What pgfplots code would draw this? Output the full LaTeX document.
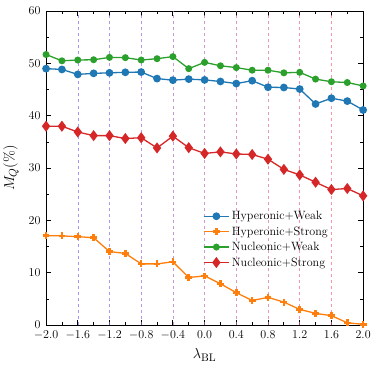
\documentclass[border=0pt]{standalone}
\usepackage{pgfplots}
\pgfplotsset{compat=1.18}

\definecolor{cblue}{HTML}{1F77B4}
\definecolor{corange}{HTML}{FF7F0E}
\definecolor{cgreen}{HTML}{2CA02C}
\definecolor{cred}{HTML}{D62728}
% guide line colours, blue-violet to pink
\definecolor{g1}{RGB}{120,110,245}
\definecolor{g2}{RGB}{140,110,235}
\definecolor{g3}{RGB}{160,105,220}
\definecolor{g4}{RGB}{180,105,205}
\definecolor{g5}{RGB}{195,105,190}
\definecolor{g6}{RGB}{210,105,175}
\definecolor{g7}{RGB}{225,105,160}
\definecolor{g8}{RGB}{235,105,145}
\definecolor{g9}{RGB}{245,105,130}

\begin{document}
\begin{tikzpicture}
\begin{axis}[
    scale only axis,
    width=315bp, height=312bp,
    xmin=-2, xmax=2, ymin=0, ymax=60,
    xtick={-2,-1.6,-1.2,-0.8,-0.4,0,0.4,0.8,1.2,1.6,2},
    minor x tick num=1,
    ytick={0,10,...,60},
    minor y tick num=1,
    tick align=inside,
    major tick length=5pt,
    minor tick length=3pt,
    tick style={black, line width=0.8pt},
    axis line style={line width=1.1pt},
    xticklabel style={yshift=-2.5pt, /pgf/number format/.cd, fixed, fixed zerofill, precision=1},
    yticklabel style={xshift=-2pt},
    xlabel={$\lambda_{\mathrm{BL}}$},
    ylabel={$M_Q(\%)$},
    label style={font=\fontsize{15}{17}\selectfont},
    ticklabel style={font=\fontsize{11.5}{13}\selectfont},
    xlabel style={yshift=-2pt},
    ylabel style={yshift=3pt},
    legend style={draw=none, fill=none, font=\fontsize{12}{14}\selectfont, at={(0.905,0.17)}, anchor=south east, row sep=1.5pt},
    legend cell align=left,
    legend image code/.code={\draw[mark repeat=2,mark phase=2] plot coordinates {(0cm,0cm) (0.45cm,0cm) (0.9cm,0cm)};},
]
% vertical guide lines
\draw[dashed, line width=0.5pt, g1, opacity=0.7] (axis cs:-1.6,0) -- (axis cs:-1.6,60);
\draw[dashed, line width=0.5pt, g2, opacity=0.7] (axis cs:-1.2,0) -- (axis cs:-1.2,60);
\draw[dashed, line width=0.5pt, g3, opacity=0.7] (axis cs:-0.8,0) -- (axis cs:-0.8,60);
\draw[dashed, line width=0.5pt, g4, opacity=0.7] (axis cs:-0.4,0) -- (axis cs:-0.4,60);
\draw[dashed, line width=0.5pt, g5, opacity=0.7] (axis cs:0,0) -- (axis cs:0,60);
\draw[dashed, line width=0.5pt, g6, opacity=0.7] (axis cs:0.4,0) -- (axis cs:0.4,60);
\draw[dashed, line width=0.5pt, g7, opacity=0.7] (axis cs:0.8,0) -- (axis cs:0.8,60);
\draw[dashed, line width=0.5pt, g8, opacity=0.7] (axis cs:1.2,0) -- (axis cs:1.2,60);
\draw[dashed, line width=0.5pt, g9, opacity=0.7] (axis cs:1.6,0) -- (axis cs:1.6,60);

\addplot[color=cblue, line width=1.3pt, mark=*, mark size=3.2pt] coordinates {
(-2.0,49.0) (-1.8,48.85) (-1.6,47.9) (-1.4,48.1) (-1.2,48.2) (-1.0,48.3) (-0.8,48.35)
(-0.6,47.1) (-0.4,46.8) (-0.2,47.0) (0.0,46.85) (0.2,46.55) (0.4,46.15) (0.6,46.7)
(0.8,45.45) (1.0,45.4) (1.2,45.1) (1.4,42.25) (1.6,43.35) (1.8,42.8) (2.0,41.1)};
\addlegendentry{Hyperonic+Weak}

\addplot[color=corange, line width=1.3pt, mark=+, mark size=3.4pt, mark options={line width=2.5pt}] coordinates {
(-2.0,17.1) (-1.8,17.05) (-1.6,16.9) (-1.4,16.7) (-1.2,14.05) (-1.0,13.7) (-0.8,11.7)
(-0.6,11.7) (-0.4,12.1) (-0.2,9.1) (0.0,9.4) (0.2,7.9) (0.4,6.2) (0.6,4.7)
(0.8,5.3) (1.0,4.4) (1.2,3.0) (1.4,2.25) (1.6,1.8) (1.8,0.45) (2.0,0.15)};
\addlegendentry{Hyperonic+Strong}

\addplot[color=cgreen, line width=1.3pt, mark=*, mark size=2.8pt] coordinates {
(-2.0,51.7) (-1.8,50.5) (-1.6,50.65) (-1.4,50.7) (-1.2,51.15) (-1.0,51.1) (-0.8,50.65)
(-0.6,50.9) (-0.4,51.3) (-0.2,49.0) (0.0,50.2) (0.2,49.55) (0.4,49.2) (0.6,48.7)
(0.8,48.7) (1.0,48.2) (1.2,48.3) (1.4,47.0) (1.6,46.5) (1.8,46.35) (2.0,45.7)};
\addlegendentry{Nucleonic+Weak}

\addplot[color=cred, line width=1.3pt, mark=diamond*, mark size=4.5pt] coordinates {
(-2.0,38.0) (-1.8,38.0) (-1.6,36.9) (-1.4,36.2) (-1.2,36.2) (-1.0,35.65) (-0.8,35.8)
(-0.6,33.85) (-0.4,36.1) (-0.2,33.9) (0.0,32.8) (0.2,33.1) (0.4,32.7) (0.6,32.6)
(0.8,31.7) (1.0,29.75) (1.2,28.7) (1.4,27.3) (1.6,25.9) (1.8,26.1) (2.0,24.7)};
\addlegendentry{Nucleonic+Strong}
\end{axis}
\path (current axis.north) ++(0,11bp);
\end{tikzpicture}
\end{document}
